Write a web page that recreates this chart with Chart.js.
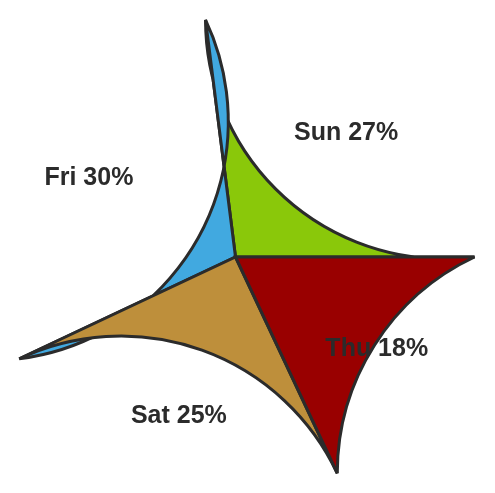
<!DOCTYPE html>
<html><head><meta charset="utf-8">
<script src="https://cdn.jsdelivr.net/npm/chart.js@4"></script>
<style>html,body{margin:0;padding:0;background:#fff}#wrap{width:495px;height:493px;position:relative}</style>
</head><body><div id="wrap"><canvas id="c"></canvas></div>
<script>
const categories = ['Sun', 'Fri', 'Sat', 'Thu'];
const shares = [27, 30, 25, 18];
const sliceColors = ['#8ac80a', '#41a9e0', '#be8f3b', '#990000'];

// Chart.js lays slices out clockwise; the reference runs counter-clockwise from 3 o'clock,
// so the library gets the reversed order (same geometry), and we draw back-to-front like the original.
const cwLabels = categories.slice().reverse();
const cwValues = shares.slice().reverse();
const cwColors = sliceColors.slice().reverse();

const concavePie = {
  id: 'concavePie',
  beforeDatasetsDraw(chart) {
    const ctx = chart.ctx;
    const arcs = chart.getDatasetMeta(0).data;
    ctx.save();
    ctx.lineWidth = 3;
    ctx.strokeStyle = '#2b2b2b';
    ctx.lineJoin = 'miter';
    ctx.miterLimit = 4;
    for (let i = arcs.length - 1; i >= 0; i--) {
      const a = arcs[i];
      const x = a.x, y = a.y, r = a.outerRadius, s = a.startAngle, e = a.endAngle;
      const p1x = x + r * Math.cos(s), p1y = y + r * Math.sin(s);
      const p2x = x + r * Math.cos(e), p2y = y + r * Math.sin(e);
      const ox = p1x + p2x - x, oy = p1y + p2y - y;
      ctx.beginPath();
      ctx.moveTo(x, y);
      ctx.lineTo(p1x, p1y);
      ctx.arc(ox, oy, r, e + Math.PI, s + Math.PI, true);
      ctx.closePath();
      ctx.fillStyle = cwColors[i];
      ctx.fill();
      ctx.stroke();
    }
    const fs = 25;
    ctx.font = 'bold ' + fs + 'px "Liberation Sans", Arial, sans-serif';
    ctx.fillStyle = '#2b2b2b';
    ctx.textAlign = 'center';
    ctx.textBaseline = 'alphabetic';
    arcs.forEach((a, i) => {
      const mid = (a.startAngle + a.endAngle) / 2;
      const lx = a.x + 0.7 * a.outerRadius * Math.cos(mid);
      const ly = a.y + 0.7 * a.outerRadius * Math.sin(mid);
      ctx.fillText(cwLabels[i] + ' ' + cwValues[i] + '%', lx, ly + 0.358 * fs);
    });
    ctx.restore();
    return false;
  }
};

new Chart(document.getElementById('c'), {
  type: 'pie',
  data: {
    labels: cwLabels,
    datasets: [{ data: cwValues, backgroundColor: cwColors, borderWidth: 0 }]
  },
  options: {
    responsive: true,
    maintainAspectRatio: false,
    animation: false,
    events: [],
    rotation: 90,
    radius: 239,
    layout: { padding: { left: 0, right: 24, top: 21, bottom: 0 } },
    plugins: { legend: { display: false }, tooltip: { enabled: false } }
  },
  plugins: [concavePie]
});
</script>
</body></html>
